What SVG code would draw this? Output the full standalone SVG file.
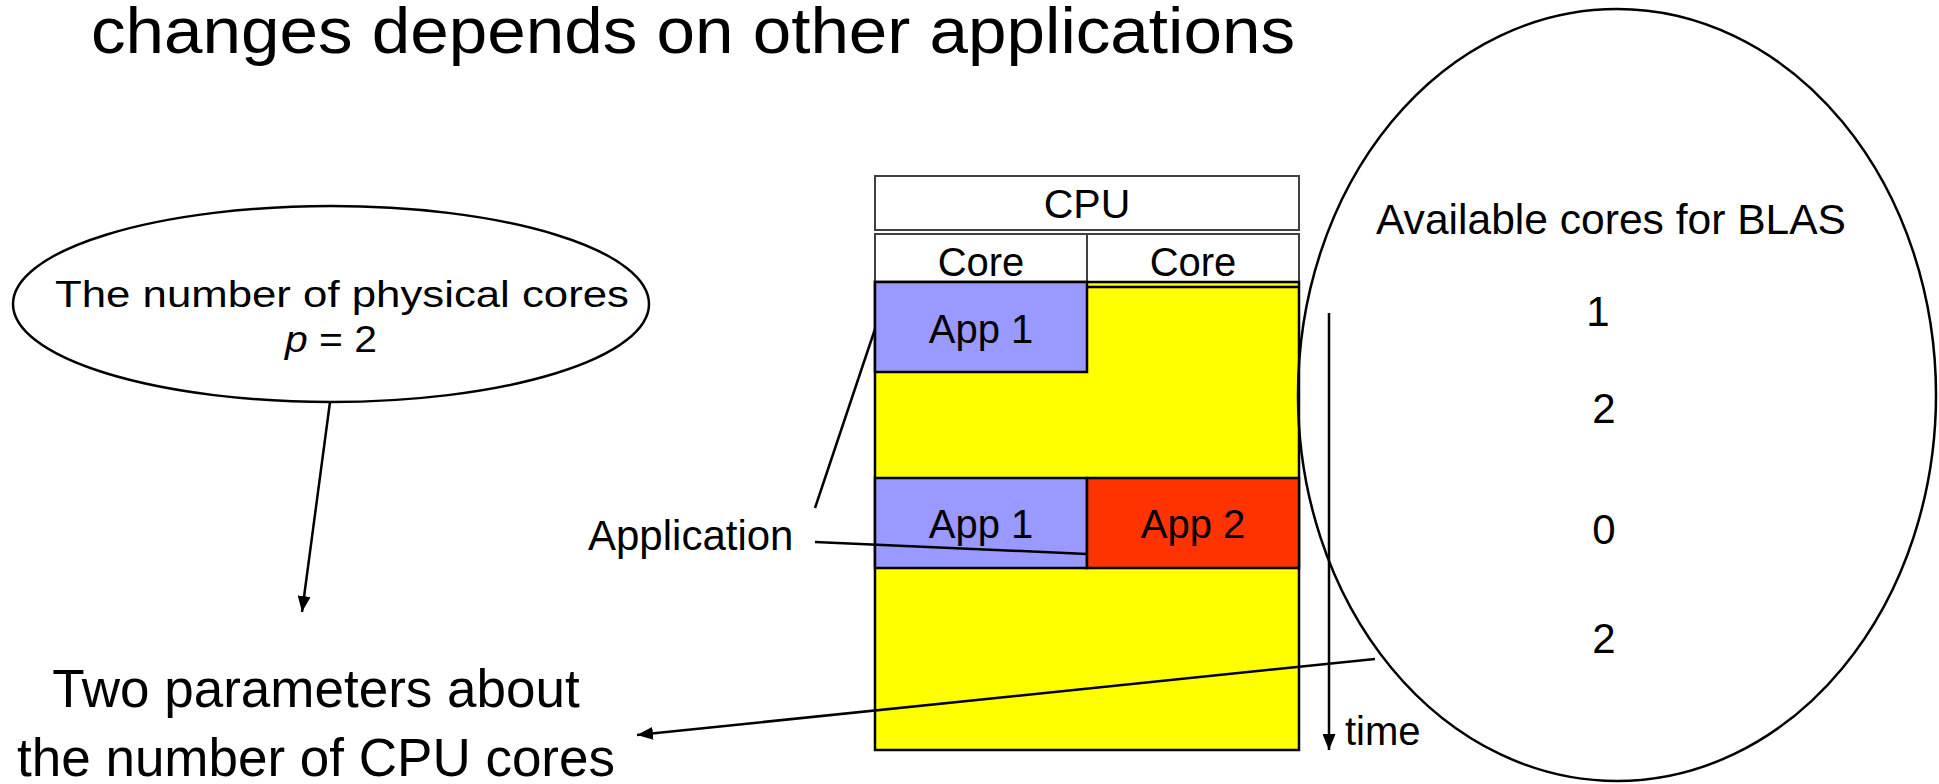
<svg xmlns="http://www.w3.org/2000/svg" width="1939" height="784" viewBox="0 0 1939 784">
<style>
.t{font-family:"Liberation Sans",Arial,sans-serif;fill:#000}
.m{text-anchor:middle}
.hdr{fill:#fff;stroke:#404040;stroke-width:2}
.blk{stroke:#000;stroke-width:2.5}
.y{fill:#ffff00}
.b{fill:#9999ff}
.r{fill:#ff3300}
.conn{stroke:#000;stroke-width:2.5;fill:none}
.oval{fill:#fff;stroke:#000;stroke-width:2.5}
</style>
<defs>
<marker id="ah" markerUnits="userSpaceOnUse" markerWidth="17" markerHeight="13" refX="16" refY="6.5" orient="auto">
<path d="M0,0 L16,6.5 L0,13 z" fill="#000"/>
</marker>
</defs>
<rect width="1939" height="784" fill="#fff"/>
<g id="title">
<text class="t" x="91" y="53" font-size="64" textLength="1204" lengthAdjust="spacingAndGlyphs">changes depends on other applications</text>
</g>
<g id="cpu-diagram">
<rect class="hdr" x="875" y="176" width="424" height="54"/>
<text class="t m" x="1087" y="218" font-size="41">CPU</text>
<rect class="hdr" x="875" y="234" width="212" height="48"/>
<rect class="hdr" x="1087" y="234" width="212" height="48"/>
<text class="t m" x="981" y="276" font-size="40">Core</text>
<text class="t m" x="1193" y="276" font-size="40">Core</text>
<rect class="y blk" x="875" y="282" width="424" height="468"/>
<line class="blk" x1="1087" y1="287" x2="1299" y2="287"/>
<rect class="b blk" x="875" y="282" width="212" height="90"/>
<text class="t m" x="981" y="343" font-size="40">App 1</text>
<rect class="b blk" x="875" y="478" width="212" height="90"/>
<text class="t m" x="981" y="538" font-size="40">App 1</text>
<rect class="r blk" x="1087" y="478" width="212" height="90"/>
<text class="t m" x="1193" y="538" font-size="40">App 2</text>
</g>
<g id="time-axis">
<line class="conn" x1="1329" y1="313" x2="1329" y2="750" marker-end="url(#ah)"/>
<text class="t" x="1345" y="745" font-size="40">time</text>
</g>
<g id="physical-cores">
<ellipse class="oval" cx="331" cy="304" rx="318" ry="98"/>
<text class="t m" x="342" y="307" font-size="37" textLength="574" lengthAdjust="spacingAndGlyphs">The number of physical cores</text>
<text class="t m" x="331" y="352" font-size="37" textLength="92" lengthAdjust="spacingAndGlyphs"><tspan font-style="italic">p</tspan> = 2</text>
</g>
<g id="available-cores">
<ellipse cx="1617" cy="395" rx="319" ry="386" fill="none" stroke="#000" stroke-width="2.5"/>
<text class="t m" x="1611" y="234" font-size="42" textLength="470" lengthAdjust="spacingAndGlyphs">Available cores for BLAS</text>
<text class="t m" x="1598" y="326" font-size="42">1</text>
<text class="t m" x="1604" y="423" font-size="42">2</text>
<text class="t m" x="1604" y="544" font-size="42">0</text>
<text class="t m" x="1604" y="653" font-size="42">2</text>
</g>
<g id="application-label">
<text class="t" x="588" y="550" font-size="42">Application</text>
</g>
<g id="two-parameters">
<text class="t m" x="316" y="707" font-size="53">Two parameters about</text>
<text class="t m" x="316" y="776" font-size="53">the number of CPU cores</text>
</g>
<g id="connectors">
<line class="conn" x1="330" y1="402" x2="302" y2="612" marker-end="url(#ah)"/>
<line class="conn" x1="1375" y1="659" x2="637" y2="735" marker-end="url(#ah)"/>
<line class="conn" x1="815" y1="508" x2="875" y2="329"/>
<line class="conn" x1="815" y1="542" x2="1087" y2="554"/>
</g>
</svg>
